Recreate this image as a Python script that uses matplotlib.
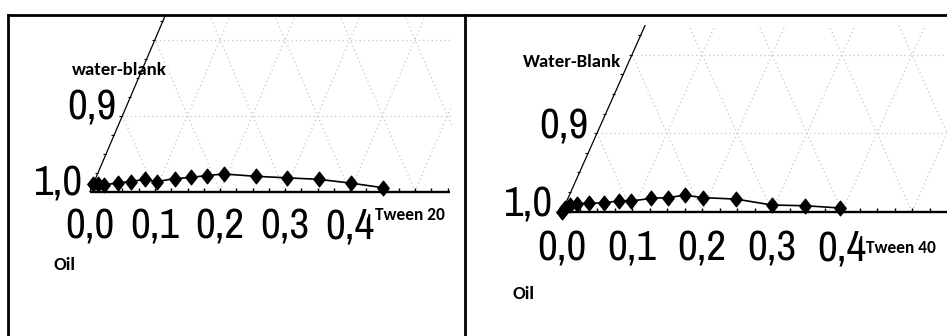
import matplotlib
matplotlib.use("Agg")
import matplotlib.pyplot as plt
from matplotlib import font_manager
from matplotlib.lines import Line2D
from matplotlib.patches import Rectangle
from matplotlib.path import Path
import numpy as np

# ---- data: ternary compositions (mass fractions) ----
tick_values = [0.0, 0.1, 0.2, 0.3, 0.4]
tick_labels = ["0,0", "0,1", "0,2", "0,3", "0,4"]
edge_values = [0.1, 0.0]
edge_labels = ["0,9", "1,0"]

tween20_frac = [0.0, 0.007, 0.017, 0.038, 0.056, 0.076, 0.096, 0.122, 0.146,
                0.169, 0.195, 0.245, 0.294, 0.344, 0.396, 0.448]
oil20_frac = [0.010, 0.010, 0.0085, 0.0116, 0.013, 0.016, 0.013, 0.017, 0.0185,
              0.021, 0.023, 0.020, 0.018, 0.016, 0.011, 0.005]

tween40_frac = [0.0, 0.002, 0.007, 0.016, 0.033, 0.055, 0.074, 0.092, 0.119,
                0.143, 0.165, 0.192, 0.241, 0.296, 0.344, 0.395]
oil40_frac = [0.0, 0.005, 0.0085, 0.010, 0.011, 0.011, 0.014, 0.0136, 0.017,
              0.018, 0.021, 0.018, 0.016, 0.0085, 0.0076, 0.0047]

W, H = 947, 336
fig = plt.figure(figsize=(W / 100, H / 100), dpi=100)
fig.patch.set_facecolor("white")

_installed = {f.name for f in font_manager.fontManager.ttflist}


def pick(candidates):
    found = [c for c in candidates if c in _installed]
    return found + ["DejaVu Sans"]


NUM_FONT = pick(["Liberation Sans Narrow", "Arial Narrow", "Archivo Narrow",
                 "Roboto Condensed", "Liberation Sans"])
TITLE_FONT = pick(["Carlito", "Calibri", "Lato"])

diamond = Path([(0, 1), (0.78, 0), (0, -1), (-0.78, 0), (0, 1)],
               [Path.MOVETO, Path.LINETO, Path.LINETO, Path.LINETO, Path.CLOSEPOLY])


def project(t, o):
    """Ternary (tween, oil) -> cartesian in base units."""
    t = np.asarray(t, float)
    o = np.asarray(o, float)
    return t + o / 2.0, o


def panel(box, origin, sx, sy, grid_right, grid_top, axis_right,
          tween, oil, title_water, title_water_xy, title_tween, title_tween_xy,
          oil_xy, lab_dy, edge_off):
    x0, y0, x1, y1 = box
    ox, oy = origin
    ax = fig.add_axes([x0 / W, 1 - y1 / H, (x1 - x0) / W, (y1 - y0) / H])
    ax.set_axis_off()
    ax.set_xlim((x0 - ox) / sx, (x1 - ox) / sx)
    ax.set_ylim((oy - y1) / sy, (oy - y0) / sy)

    gx1 = (grid_right - ox) / sx
    gy1 = (oy - grid_top) / sy
    clip = Rectangle((-1, -1), gx1 + 1, gy1 + 1, transform=ax.transData,
                     fill=False, visible=False)
    ax.add_patch(clip)

    gkw = dict(color="#c8c8c8", lw=0.9, ls=(0, (1, 2.4)), zorder=1)
    for k in range(1, 10):
        f = k / 10
        # iso-tween lines
        xs, ys = project([f, f], [0, 1 - f])
        ln, = ax.plot(xs, ys, **gkw)
        ln.set_clip_path(clip)
        # iso-water lines
        xs, ys = project([f, 0], [0, f])
        ln, = ax.plot(xs, ys, **gkw)
        ln.set_clip_path(clip)
        # iso-oil lines
        xs, ys = project([0, 1 - f], [f, f])
        ln, = ax.plot(xs, ys, **gkw)
        ln.set_clip_path(clip)

    # left edge (tween = 0)
    ex, ey = project([0, 0], [0, 1])
    ln, = ax.plot(ex, ey, color="black", lw=0.9, zorder=3)
    ln.set_clip_path(clip)
    eo = np.arange(0.025, 1.0, 0.025)
    tx, ty = project(np.zeros_like(eo), eo)
    ln, = ax.plot(tx, ty, ls="none", marker=0, ms=2.4, mew=0.8, color="black", zorder=3)
    ln.set_clip_path(clip)

    # base axis (oil = 0)
    xend = (axis_right - ox) / sx
    ax.plot([0, xend], [0, 0], color="black", lw=1.7, zorder=3, solid_capstyle="butt")
    bt = np.arange(0.025, xend, 0.025)
    ax.plot(bt, np.zeros_like(bt), ls="none", marker=2, ms=3.2, mew=1.0,
            color="black", zorder=3)

    # data
    px, py = project(tween, oil)
    ax.plot(px, py, color="black", lw=1.2, zorder=4)
    ax.plot(px, py, ls="none", marker=diamond, ms=10.5, color="black", zorder=5)

    # tick labels
    for v, s in zip(tick_values, tick_labels):
        ax.annotate(s, (v, 0), xytext=(0, lab_dy), textcoords="offset pixels",
                    ha="center", va="center", fontsize=31, family=NUM_FONT)
    for v, s in zip(edge_values, edge_labels):
        lx, ly = project(0, v)
        ax.annotate(s, (float(lx), float(ly)), xytext=edge_off, textcoords="offset pixels",
                    ha="center", va="center", fontsize=31, family=NUM_FONT)

    fig.text(title_water_xy[0] / W, 1 - title_water_xy[1] / H, title_water,
             ha="center", va="center", fontsize=13.5, fontweight="bold", family=TITLE_FONT)
    fig.text(title_tween_xy[0] / W, 1 - title_tween_xy[1] / H, title_tween,
             ha="center", va="center", fontsize=12.5, fontweight="bold", family=TITLE_FONT)
    fig.text(oil_xy[0] / W, 1 - oil_xy[1] / H, "Oil",
             ha="center", va="center", fontsize=13.5, fontweight="bold", family=TITLE_FONT)
    return ax


panel((8, 15, 465, 336), (90, 191.5), 650, 760, 452, 15, 450,
      tween20_frac, oil20_frac, "water-blank", (119, 70), "Tween 20", (410, 215),
      (64, 265), -35, (-31, 8))
panel((465, 15, 947, 336), (562, 211.7), 700, 785, 947, 25, 947,
      tween40_frac, oil40_frac, "Water-Blank", (572, 62), "Tween 40", (901, 248),
      (523, 294), -37, (-33, 7))

# frame lines around the panels
for (xa, ya, xb, yb) in [(8, 15, 947, 15), (8, 15, 8, 336), (465, 15, 465, 336)]:
    fig.add_artist(Line2D([xa / W, xb / W], [1 - ya / H, 1 - yb / H],
                          transform=fig.transFigure, color="black", lw=2.0))

fig.savefig("out.png", dpi=100, facecolor="white")
